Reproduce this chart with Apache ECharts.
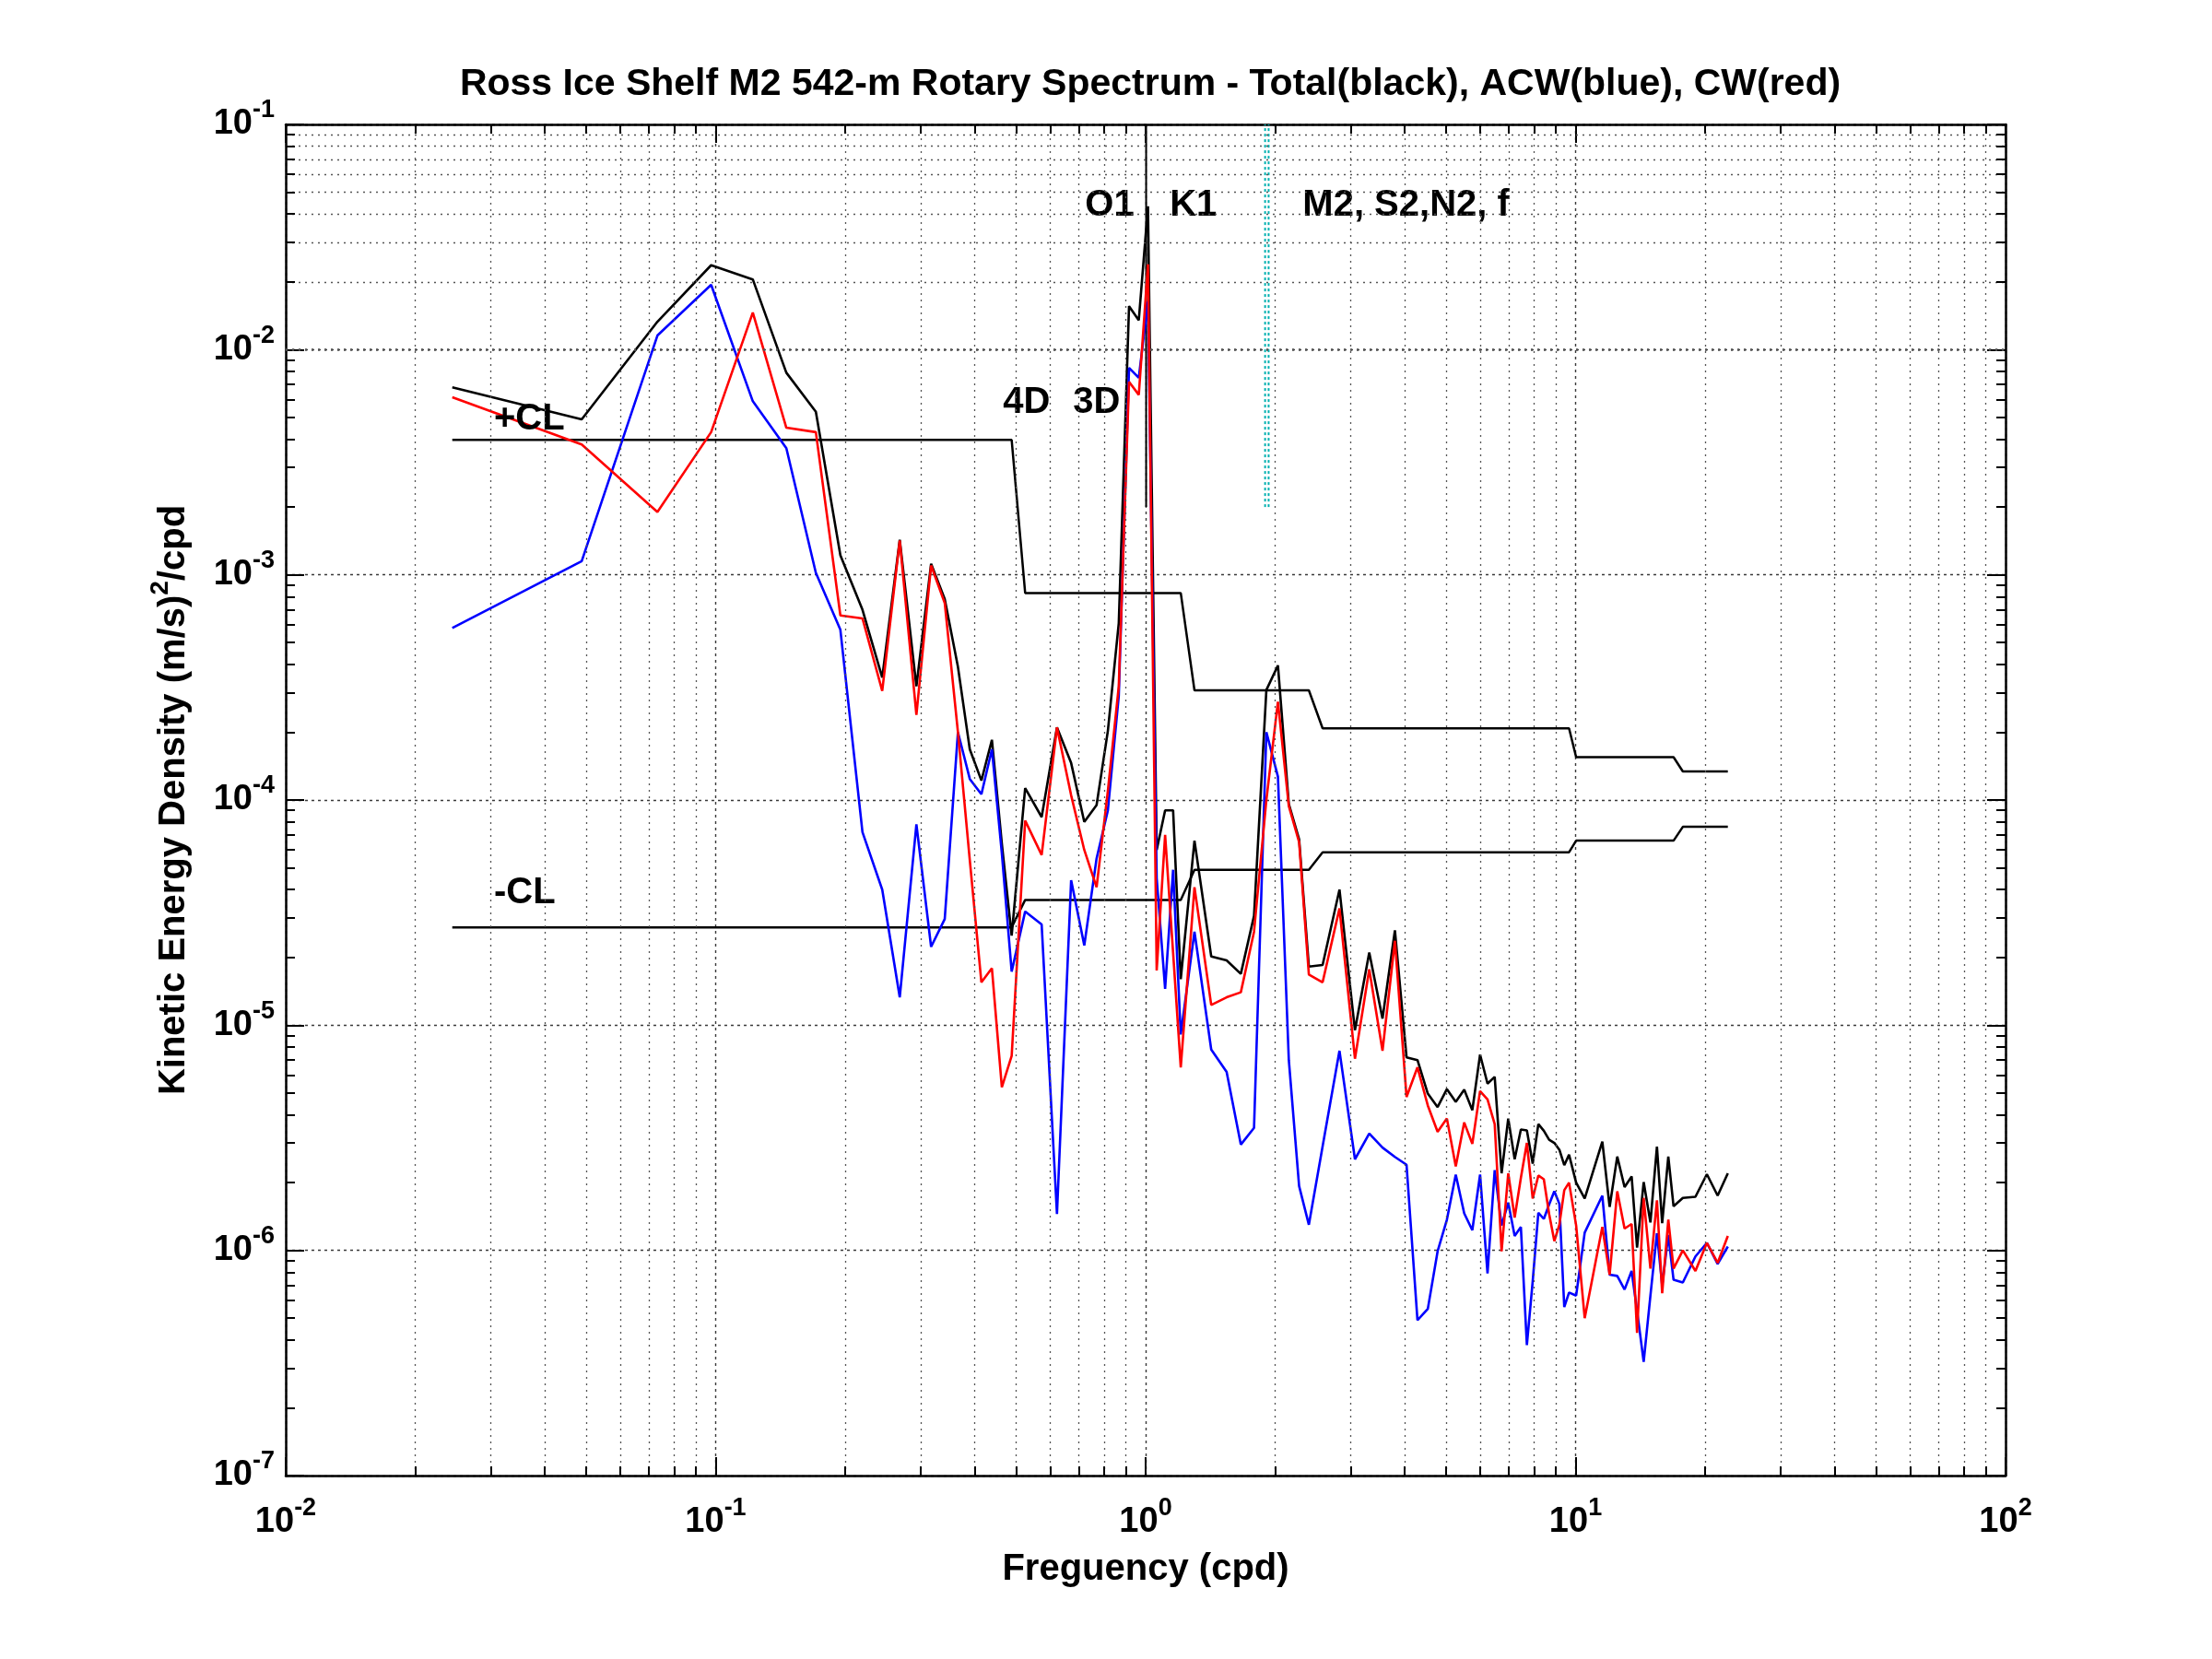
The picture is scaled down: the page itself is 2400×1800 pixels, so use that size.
<!DOCTYPE html>
<html>
<head>
<meta charset="utf-8">
<script src="https://cdn.jsdelivr.net/npm/echarts@6/dist/echarts.min.js"></script>
<style>
html,body{margin:0;padding:0;background:#ffffff;}
#chart{width:2400px;height:1800px;}
</style>
</head>
<body>
<div id="chart"></div>
<script>
// ---------------- data ----------------
const freq = [0.0244, 0.0488, 0.0732, 0.0976, 0.122, 0.146, 0.171, 0.195, 0.2195, 0.244,
  0.268, 0.293, 0.317, 0.341, 0.366, 0.39, 0.415, 0.439, 0.463, 0.488,
  0.5246, 0.573, 0.622, 0.671, 0.72, 0.769, 0.817, 0.866, 0.915, 0.964,
  1.0126, 1.061, 1.11, 1.1585, 1.207, 1.299, 1.421, 1.543, 1.665, 1.787,
  1.909, 2.031, 2.153, 2.275, 2.397, 2.58, 2.824, 3.068, 3.312, 3.556,
  3.8, 4.044, 4.288, 4.532, 4.776, 5.02, 5.264, 5.508, 5.752, 5.996,
  6.24, 6.484, 6.728, 6.972, 7.216, 7.46, 7.704, 7.948, 8.192, 8.436,
  8.68, 8.924, 9.168, 9.412, 9.656, 10.03, 10.5, 11.54, 12.0, 12.5,
  13.0, 13.5, 13.9, 14.4, 14.93, 15.46, 15.9, 16.43, 16.9, 17.76,
  19.0, 20.2, 21.4, 22.6];

// Total (black)
const totalKE = [6.8e-3, 4.9e-3, 1.33e-2, 2.37e-2, 2.05e-2, 7.9e-3, 5.3e-3, 1.22e-3, 7.0e-4, 3.5e-4,
  1.43e-3, 3.2e-4, 1.12e-3, 7.8e-4, 3.9e-4, 1.68e-4, 1.22e-4, 1.85e-4, 6.4e-5, 2.5e-5,
  1.13e-4, 8.4e-5, 2.1e-4, 1.46e-4, 8.0e-5, 9.5e-5, 2.03e-4, 6.1e-4, 1.56e-2, 1.35e-2,
  4.33e-2, 6.0e-5, 9.0e-5, 9.0e-5, 1.6e-5, 6.6e-5, 2.02e-5, 1.94e-5, 1.69e-5, 3.06e-5,
  3.08e-4, 3.96e-4, 9.6e-5, 6.7e-5, 1.82e-5, 1.85e-5, 4.0e-5, 9.5e-6, 2.1e-5, 1.07e-5,
  2.64e-5, 7.2e-6, 7.0e-6, 4.97e-6, 4.33e-6, 5.2e-6, 4.57e-6, 5.17e-6, 4.19e-6, 7.4e-6,
  5.5e-6, 5.9e-6, 2.2e-6, 3.85e-6, 2.54e-6, 3.44e-6, 3.41e-6, 2.43e-6, 3.64e-6, 3.4e-6,
  3.1e-6, 3.0e-6, 2.8e-6, 2.39e-6, 2.66e-6, 2.0e-6, 1.7e-6, 3.04e-6, 1.56e-6, 2.61e-6,
  1.91e-6, 2.13e-6, 1.03e-6, 2.01e-6, 1.33e-6, 2.89e-6, 1.32e-6, 2.61e-6, 1.57e-6, 1.71e-6,
  1.73e-6, 2.18e-6, 1.75e-6, 2.2e-6];

// ACW (blue)
const acwKE = [5.8e-4, 1.15e-3, 1.155e-2, 1.94e-2, 5.9e-3, 3.65e-3, 1.02e-3, 5.7e-4, 7.2e-5, 4.0e-5,
  1.33e-5, 7.8e-5, 2.23e-5, 2.96e-5, 2.0e-4, 1.24e-4, 1.06e-4, 1.68e-4, 5.8e-5, 1.73e-5,
  3.2e-5, 2.8e-5, 1.45e-6, 4.4e-5, 2.26e-5, 5.5e-5, 9.0e-5, 2.9e-4, 8.3e-3, 7.5e-3,
  1.64e-2, 4.5e-5, 1.45e-5, 4.9e-5, 9.1e-6, 2.6e-5, 7.8e-6, 6.2e-6, 2.95e-6, 3.5e-6,
  2.0e-4, 1.27e-4, 7.0e-6, 1.93e-6, 1.3e-6, 2.9e-6, 7.7e-6, 2.54e-6, 3.3e-6, 2.86e-6,
  2.6e-6, 2.4e-6, 4.9e-7, 5.5e-7, 9.9e-7, 1.37e-6, 2.17e-6, 1.46e-6, 1.23e-6, 2.17e-6,
  7.9e-7, 2.27e-6, 1.29e-6, 1.63e-6, 1.16e-6, 1.27e-6, 3.8e-7, 7.3e-7, 1.47e-6, 1.38e-6,
  1.6e-6, 1.83e-6, 1.61e-6, 5.6e-7, 6.5e-7, 6.3e-7, 1.2e-6, 1.75e-6, 7.8e-7, 7.7e-7,
  6.7e-7, 8.1e-7, 5.4e-7, 3.2e-7, 6.3e-7, 1.19e-6, 7.0e-7, 1.17e-6, 7.4e-7, 7.2e-7,
  9.4e-7, 1.08e-6, 8.7e-7, 1.04e-6];

// CW (red)
const cwKE = [6.15e-3, 3.79e-3, 1.9e-3, 4.3e-3, 1.46e-2, 4.5e-3, 4.3e-3, 6.6e-4, 6.4e-4, 3.05e-4,
  1.42e-3, 2.39e-4, 1.1e-3, 7.5e-4, 2.0e-4, 5.4e-5, 1.55e-5, 1.79e-5, 5.3e-6, 7.3e-6,
  8.1e-5, 5.7e-5, 2.1e-4, 1.05e-4, 6.0e-5, 4.1e-5, 1.1e-4, 3.2e-4, 7.2e-3, 6.3e-3,
  2.39e-2, 1.75e-5, 7.0e-5, 2.1e-5, 6.5e-6, 4.1e-5, 1.23e-5, 1.33e-5, 1.4e-5, 2.6e-5,
  1.0e-4, 2.73e-4, 9.4e-5, 6.5e-5, 1.68e-5, 1.55e-5, 3.3e-5, 7.1e-6, 1.77e-5, 7.7e-6,
  2.37e-5, 4.8e-6, 6.5e-6, 4.4e-6, 3.36e-6, 3.85e-6, 2.36e-6, 3.7e-6, 2.97e-6, 5.1e-6,
  4.68e-6, 3.64e-6, 9.9e-7, 2.2e-6, 1.4e-6, 2.1e-6, 3.0e-6, 1.7e-6, 2.15e-6, 2.07e-6,
  1.45e-6, 1.1e-6, 1.3e-6, 1.85e-6, 2.0e-6, 1.29e-6, 5.0e-7, 1.27e-6, 7.8e-7, 1.83e-6,
  1.25e-6, 1.31e-6, 4.3e-7, 1.71e-6, 8.3e-7, 1.67e-6, 6.45e-7, 1.37e-6, 8.3e-7, 1.0e-6,
  8.1e-7, 1.08e-6, 8.8e-7, 1.16e-6];

// confidence-limit staircases
const clFreq  = [0.0244, 0.488, 0.5246, 1.207, 1.299, 2.397, 2.58, 9.656, 10.03, 16.9, 17.76, 22.6];
const upperCL = [3.97e-3, 3.97e-3, 8.3e-4, 8.3e-4, 3.07e-4, 3.07e-4, 2.08e-4, 2.08e-4, 1.55e-4, 1.55e-4, 1.34e-4, 1.34e-4];
const lowerCL = [2.72e-5, 2.72e-5, 3.6e-5, 3.6e-5, 4.9e-5, 4.9e-5, 5.86e-5, 5.86e-5, 6.6e-5, 6.6e-5, 7.6e-5, 7.6e-5];

// tidal marker lines
const k1Freq = 1.0027;
const semidiurnalFreqs = [1.8961, 1.9323];
const markerRange = [2e-3, 1e-1];

// text annotations
const annotTexts = ['+CL', '-CL', '4D', '3D', 'O1', 'K1', 'M2, S2,N2, f'];
const annotFreq  = [0.0305, 0.0305, 0.466, 0.678, 0.723, 1.138, 2.318];
const annotLevel = [4.9e-3, 3.87e-5, 5.8e-3, 5.8e-3, 0.0436, 0.0436, 0.0436];

// axis ranges (decade exponents)
const xExpRange = [-2, 2];
const yExpRange = [-7, -1];

// ---------------- chart ----------------
const FONT = 'Liberation Sans';
const X_MIN = Math.pow(10, xExpRange[0]), X_MAX = Math.pow(10, xExpRange[1]);
const Y_MIN = Math.pow(10, yExpRange[0]), Y_MAX = Math.pow(10, yExpRange[1]);
const pairs = (xs, ys) => xs.map((x, i) => [x, ys[i]]);

const minorX = [];
for (let d = xExpRange[0]; d < xExpRange[1]; d++) for (let m = 2; m <= 9; m++) minorX.push(m * Math.pow(10, d));
const minorY = [];
for (let d = yExpRange[0]; d < yExpRange[1]; d++) for (let m = 2; m <= 9; m++) minorY.push(m * Math.pow(10, d));

// minor tick length expressed as a factor along each log axis
const tickFacY = Math.pow(10, 10 / 244.3);
const tickFacX = Math.pow(10, 10 / 466.5);

const minorGrid = [];
minorX.forEach(v => minorGrid.push({ xAxis: v }));
minorY.forEach(v => minorGrid.push({ yAxis: v }));

const minorTicks = [];
minorX.forEach(v => {
  minorTicks.push([{ coord: [v, Y_MIN] }, { coord: [v, Y_MIN * tickFacY] }]);
  minorTicks.push([{ coord: [v, Y_MAX] }, { coord: [v, Y_MAX / tickFacY] }]);
});
minorY.forEach(v => {
  minorTicks.push([{ coord: [X_MIN, v] }, { coord: [X_MIN * tickFacX, v] }]);
  minorTicks.push([{ coord: [X_MAX, v] }, { coord: [X_MAX / tickFacX, v] }]);
});

const expLabel = v => '{b|10}{s|' + Math.round(Math.log10(v)) + '}';
const labelRich = {
  b: { fontSize: 38, fontWeight: 'bold', fontFamily: FONT, color: '#000' },
  s: { fontSize: 27, fontWeight: 'bold', fontFamily: FONT, color: '#000', padding: [0, 0, 30, 0] }
};
const frameLine = { show: true, onZero: false, lineStyle: { color: '#000', width: 2.5 } };
const majorTick = { show: true, inside: true, length: 20, lineStyle: { color: '#000', width: 2 } };
const majorGrid = { show: true, lineStyle: { type: [3, 4], color: '#3a3a3a', width: 1.4 } };

const chart = echarts.init(document.getElementById('chart'), null, { renderer: 'canvas' });

const option = {
  backgroundColor: '#ffffff',
  animation: false,
  title: {
    text: 'Ross Ice Shelf M2 542-m Rotary Spectrum - Total(black), ACW(blue), CW(red)',
    left: 1243, top: 66, textAlign: 'center',
    textStyle: { fontSize: 41, fontWeight: 'bold', fontFamily: FONT, color: '#000' }
  },
  grid: { left: 310, right: 224, top: 135, bottom: 199, containLabel: false, outerBoundsMode: 'none' },
  xAxis: [
    {
      type: 'log', logBase: 10, min: X_MIN, max: X_MAX, position: 'bottom',
      axisLine: frameLine, axisTick: majorTick, splitLine: majorGrid,
      axisLabel: { formatter: expLabel, margin: 22, rich: labelRich, showMinLabel: true, showMaxLabel: true },
      name: 'Freguency (cpd)', nameLocation: 'middle', nameGap: 82,
      nameTextStyle: { fontSize: 40, fontWeight: 'bold', fontFamily: FONT, color: '#000' }
    },
    {
      type: 'log', logBase: 10, min: X_MIN, max: X_MAX, position: 'top',
      axisLine: frameLine, axisTick: majorTick, splitLine: { show: false },
      axisLabel: { show: false }
    }
  ],
  yAxis: [
    {
      type: 'log', logBase: 10, min: Y_MIN, max: Y_MAX, position: 'left',
      axisLine: frameLine, axisTick: majorTick, splitLine: majorGrid,
      axisLabel: { formatter: expLabel, margin: 12, rich: labelRich, showMinLabel: true, showMaxLabel: true },
      name: '{n|Kinetic Energy Density (m/s)}{s|2}{n|/cpd}', nameLocation: 'middle', nameGap: 92,
      nameTextStyle: {
        rich: {
          n: { fontSize: 40, fontWeight: 'bold', fontFamily: FONT, color: '#000' },
          s: { fontSize: 28, fontWeight: 'bold', fontFamily: FONT, color: '#000', padding: [0, 0, 30, 0] }
        }
      }
    },
    {
      type: 'log', logBase: 10, min: Y_MIN, max: Y_MAX, position: 'right',
      axisLine: frameLine, axisTick: majorTick, splitLine: { show: false },
      axisLabel: { show: false }
    }
  ],
  series: [
    {
      name: '+CL', type: 'line', z: 2, symbol: 'none', silent: true,
      data: pairs(clFreq, upperCL),
      lineStyle: { color: '#000', width: 2.5 },
      markLine: {
        silent: true, symbol: ['none', 'none'], label: { show: false }, animation: false,
        lineStyle: { type: [2, 5], color: '#555', width: 1.3 },
        emphasis: { disabled: true },
        data: minorGrid
      }
    },
    {
      name: '-CL', type: 'line', z: 2, symbol: 'none', silent: true,
      data: pairs(clFreq, lowerCL),
      lineStyle: { color: '#000', width: 2.5 },
      markLine: {
        silent: true, symbol: ['none', 'none'], label: { show: false }, animation: false,
        lineStyle: { type: 'solid', color: '#000', width: 2 },
        emphasis: { disabled: true },
        data: minorTicks
      }
    },
    {
      name: 'K1', type: 'line', z: 2, symbol: 'none', silent: true,
      data: [[k1Freq, markerRange[0]], [k1Freq, markerRange[1]]],
      lineStyle: { color: '#000', width: 2 }
    },
    ...semidiurnalFreqs.map(f => ({
      name: 'semidiurnal', type: 'line', z: 2, symbol: 'none', silent: true,
      data: [[f, markerRange[0]], [f, markerRange[1]]],
      lineStyle: { color: '#00b0b0', width: 2, type: [3, 3] }
    })),
    {
      name: 'Total', type: 'line', z: 3, symbol: 'none', silent: true,
      data: pairs(freq, totalKE), lineStyle: { color: '#000000', width: 2.6 }
    },
    {
      name: 'ACW', type: 'line', z: 3, symbol: 'none', silent: true,
      data: pairs(freq, acwKE), lineStyle: { color: '#0000ff', width: 2.6 }
    },
    {
      name: 'CW', type: 'line', z: 3, symbol: 'none', silent: true,
      data: pairs(freq, cwKE), lineStyle: { color: '#ff0000', width: 2.6 }
    },
    {
      name: 'annotations', type: 'scatter', z: 4, symbolSize: 0, silent: true,
      itemStyle: { opacity: 1 },
      data: annotTexts.map((t, i) => ({ name: t, value: [annotFreq[i], annotLevel[i]] })),
      label: {
        show: true, formatter: '{b}', position: 'right', distance: 0, opacity: 1,
        fontSize: 40, fontWeight: 'bold', fontFamily: FONT, color: '#000000'
      }
    }
  ]
};
chart.setOption(option);
</script>
</body>
</html>
